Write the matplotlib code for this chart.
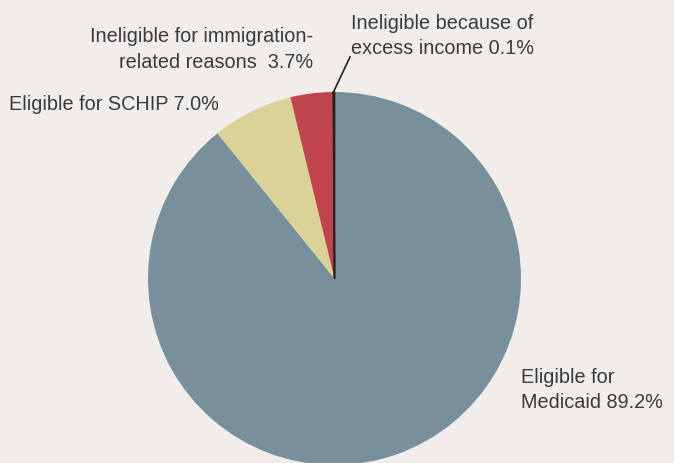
import matplotlib
matplotlib.use("Agg")
import matplotlib.pyplot as plt

categories = ["Eligible for\nMedicaid", "Eligible for SCHIP",
              "Ineligible for immigration-\nrelated reasons ", "Ineligible because of\nexcess income"]
values = [89.2, 7.0, 3.7, 0.1]
colors = ["#77909b", "#dad297", "#c0444e", "#2a1f1f"]
bg = "#f1edeb"

W, H = 674, 464
fig = plt.figure(figsize=(W / 100, H / 100), dpi=100, facecolor=bg)
ax = fig.add_axes([0, 0, 1, 1])
ax.set_facecolor(bg)

cx, cy, r = 334.5, H - 279.5, 186.5
wedges, _ = ax.pie(values, colors=colors, startangle=90, counterclock=False,
                   center=(cx, cy), radius=r, frame=True,
                   wedgeprops=dict(linewidth=0))
wedges[3].set_edgecolor(colors[3])
wedges[3].set_linewidth(1.2)
ax.set_xlim(0, W)
ax.set_ylim(0, H)
ax.set_aspect("equal")
ax.axis("off")

fp = dict(fontsize=14.3, color="#3a3a3a", family=["Liberation Sans", "DejaVu Sans"],
          linespacing=1.42)
labels = [f"{c} {v:.1f}%" for c, v in zip(categories, values)]
ax.text(521, H - 390, labels[0], ha="left", va="center", **fp)
ax.text(9, H - 104, labels[1], ha="left", va="center", **fp)
ax.text(313, H - 49.5, labels[2], ha="right", va="center", **fp)
ax.text(351, H - 36, labels[3], ha="left", va="center", **fp)
ax.plot([333, 350], [H - 94, H - 58], color="#222222", lw=1.2)

fig.savefig("out.png", dpi=100, facecolor=bg)
